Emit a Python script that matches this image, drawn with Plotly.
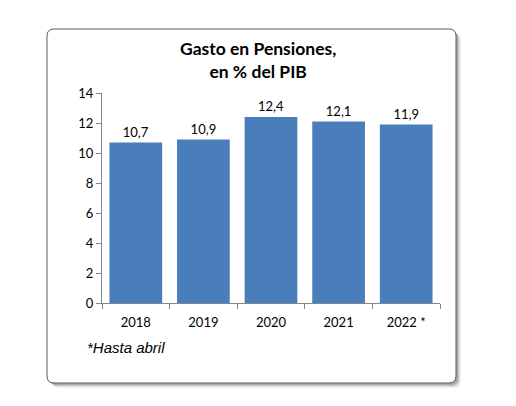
import plotly.graph_objects as go

years = ["2018", "2019", "2020", "2021", "2022 *"]
gasto = [10.7, 10.9, 12.4, 12.1, 11.9]
y_ticks = [0, 2, 4, 6, 8, 10, 12, 14]

OFF = 8  # page body margin
W, H = 516 - 2 * OFF, 406 - 2 * OFF
# plot area in screenshot px
PL, PR, PT, PB = 102, 440, 93, 303


def px_x(x):
    return (x - PL) / (PR - PL)


def px_y(y):
    return (PB - y) / (PB - PT)


def rounded_path(x0, y0, x1, y1, r):
    X = px_x
    Y = px_y
    return (f"M {X(x0 + r)} {Y(y0)} L {X(x1 - r)} {Y(y0)} "
            f"Q {X(x1)} {Y(y0)} {X(x1)} {Y(y0 + r)} "
            f"L {X(x1)} {Y(y1 - r)} Q {X(x1)} {Y(y1)} {X(x1 - r)} {Y(y1)} "
            f"L {X(x0 + r)} {Y(y1)} Q {X(x0)} {Y(y1)} {X(x0)} {Y(y1 - r)} "
            f"L {X(x0)} {Y(y0 + r)} Q {X(x0)} {Y(y0)} {X(x0 + r)} {Y(y0)} Z")


shapes = []
for off, alpha in [(5, 0.05), (4, 0.08), (3, 0.11), (2, 0.15)]:
    shapes.append(dict(type="path", xref="paper", yref="paper", layer="below",
                       path=rounded_path(47 + off, 29 + off, 456 + off, 383 + off, 7),
                       fillcolor=f"rgba(0,0,0,{alpha})", line=dict(width=0)))
shapes.append(dict(type="path", xref="paper", yref="paper", layer="below",
                   path=rounded_path(47, 29, 456, 383, 7),
                   fillcolor="white", line=dict(color="#5a5a5a", width=1)))

fig = go.Figure(go.Bar(
    x=years, y=gasto,
    marker=dict(color="#4A7EBB", line=dict(width=0)),
    texttemplate="%{y:.1f}", textposition="outside",
    textfont=dict(family="Lato", size=13, color="#000000"),
    cliponaxis=False,
))

fig.update_layout(
    width=W, height=H,
    margin=dict(l=PL - OFF, r=W - (PR - OFF), t=PT - OFF, b=H - (PB - OFF)),
    paper_bgcolor="white", plot_bgcolor="rgba(0,0,0,0)",
    separators=",.",
    bargap=0.22,
    showlegend=False,
    shapes=shapes,
    font=dict(family="Lato", size=13, color="#000000"),
    annotations=[
        dict(text="<b>Gasto en Pensiones,<br>en % del PIB</b>", xref="paper", yref="paper",
             x=px_x(258), y=px_y(60), xanchor="center", yanchor="middle", showarrow=False,
             font=dict(family="Lato", size=17.5, color="#000000")),
        dict(text="<i>*Hasta abril</i>", xref="paper", yref="paper",
             x=px_x(85), y=px_y(347), xanchor="left", yanchor="middle", showarrow=False,
             font=dict(family="Liberation Sans", size=15, color="#000000")),
    ],
)
fig.update_xaxes(type="category", showline=True, linecolor="#868686", linewidth=1,
                 ticks="outside", tickson="boundaries", ticklen=5, tickcolor="#868686",
                 ticklabelstandoff=7,
                 showgrid=False, tickfont=dict(size=13))
fig.update_yaxes(range=[0, 14], tickvals=y_ticks, showline=True, linecolor="#868686",
                 linewidth=1, ticks="outside", ticklen=5, tickcolor="#868686",
                 showgrid=False, zeroline=False, tickfont=dict(size=13))

fig.write_html("out.html")
